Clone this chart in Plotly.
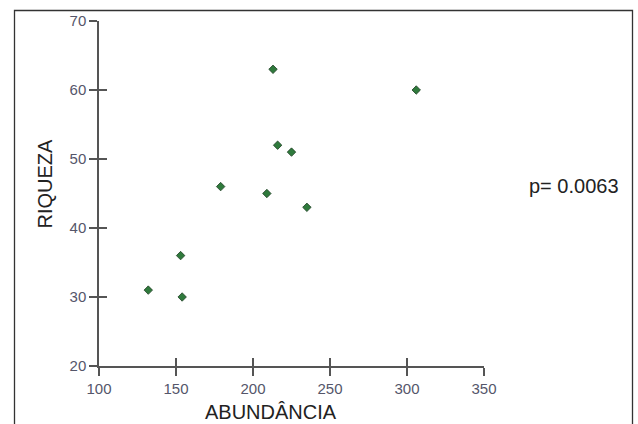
import plotly.graph_objects as go

abundancia = [132, 153, 154, 179, 209, 213, 216, 225, 235, 306]
riqueza = [31, 36, 30, 46, 45, 63, 52, 51, 43, 60]
x_ticks = [100, 150, 200, 250, 300, 350]
y_ticks = [20, 30, 40, 50, 60, 70]
x_title = "ABUNDÂNCIA"
y_title = "RIQUEZA"
p_text = "p= 0.0063"

W, H = 638, 424
L, R, T, B = 99, 154, 21, 58
pw, ph = W - L - R, H - T - B

def px(x):
    return (x - L) / pw

def py(y):
    return (H - B - y) / ph

axis_col = "#555555"
lab_col = "#55566a"
font = "Liberation Sans, Arial, sans-serif"

fig = go.Figure()
fig.add_trace(go.Scatter(
    x=abundancia, y=riqueza, mode="markers",
    marker=dict(symbol="diamond", size=6.5, color="#2f7a3c",
                line=dict(color="#1f3f25", width=0.8)),
    showlegend=False, cliponaxis=False,
))
# overlay axes to make ticks cross the axis line
fig.add_trace(go.Scatter(x=[100, 350], y=[20, 70], xaxis="x2", yaxis="y2",
                         mode="markers", marker=dict(opacity=0), showlegend=False,
                         hoverinfo="skip"))

common = dict(showgrid=False, zeroline=False, linecolor=axis_col, linewidth=1.5,
              tickcolor=axis_col, tickwidth=1.5, ticklen=8)
fig.update_layout(
    width=W, height=H,
    margin=dict(l=L, r=R, t=T, b=B),
    paper_bgcolor="white", plot_bgcolor="white",
    xaxis=dict(range=[100, 350], tickvals=x_ticks, ticks="outside", showline=True,
               tickfont=dict(family=font, size=15, color=lab_col), **common),
    yaxis=dict(range=[20, 70], tickvals=y_ticks, ticks="outside", showline=True,
               tickfont=dict(family=font, size=15, color=lab_col), **common),
    xaxis2=dict(range=[100, 350], tickvals=x_ticks, ticks="inside", showline=True,
                showticklabels=False, overlaying="x", anchor="y2", side="bottom", **common),
    yaxis2=dict(range=[20, 70], tickvals=y_ticks, ticks="inside", showline=True,
                showticklabels=False, overlaying="y", anchor="x2", side="left", **common),
    shapes=[dict(type="rect", xref="paper", yref="paper",
                 x0=px(14.5), x1=px(632.5), y0=py(440), y1=py(10.5),
                 line=dict(color="#333333", width=1.3), layer="below")],
    annotations=[
        dict(text=x_title, xref="paper", yref="paper", x=px(270.5), y=py(412),
             showarrow=False, font=dict(family=font, size=20, color="#222222"),
             xanchor="center", yanchor="middle"),
        dict(text=y_title, xref="paper", yref="paper", x=px(44.5), y=py(184),
             showarrow=False, textangle=-90, font=dict(family=font, size=20, color="#222222"),
             xanchor="center", yanchor="middle"),
        dict(text=p_text, xref="paper", yref="paper", x=px(574), y=py(186),
             showarrow=False, font=dict(family=font, size=20, color="#222222"),
             xanchor="center", yanchor="middle"),
    ],
)
fig.write_html("out.html")
